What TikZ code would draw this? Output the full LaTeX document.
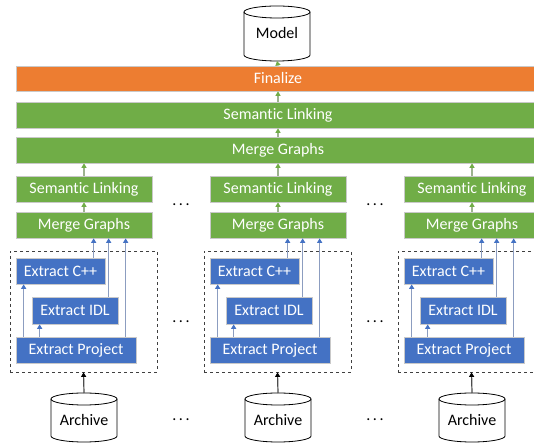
\documentclass[tikz,border=0pt]{standalone}
\usepackage{fontspec}
\setmainfont{Carlito}[Ligatures=NoCommon]
\usetikzlibrary{arrows.meta,calc}
\definecolor{offgreen}{HTML}{70AD47}
\definecolor{offorange}{HTML}{ED7D31}
\definecolor{offblue}{HTML}{4472C4}
\definecolor{gstem}{HTML}{9DB38F}
\definecolor{bstem}{HTML}{8C9DC0}
\definecolor{boxline}{HTML}{C9C9C9}
\newcommand\drawcyl[5]{% cx, ytop, ybot, rx, ry
  \path[fill=white] (#1-#4,#2-#5) -- (#1-#4,#3+#5) arc[start angle=180,end angle=360,x radius=#4,y radius=#5] -- (#1+#4,#2-#5) arc[start angle=0,end angle=180,x radius=#4,y radius=#5] -- cycle;
  \draw[cylline] (#1-#4,#2-#5) -- (#1-#4,#3+#5) arc[start angle=180,end angle=360,x radius=#4,y radius=#5] -- (#1+#4,#2-#5);
  \draw[cylline] (#1,#2-#5) ellipse[x radius=#4,y radius=#5];
}
\begin{document}
\begin{tikzpicture}[x=1pt,y=1pt,
 box/.style={rectangle, draw=boxline, line width=0.7pt, inner sep=0pt, minimum height=26pt, text=white, font=\fontsize{16}{19}\selectfont},
 gbox/.style={box, fill=offgreen},
 obox/.style={box, fill=offorange},
 bbox/.style={box, fill=offblue},
 garrow/.style={draw=gstem, line width=1.2pt, -{Triangle[length=4.5pt,width=5pt,color=offgreen]}},
 barrow/.style={draw=bstem, line width=1.2pt, -{Triangle[length=4.5pt,width=5pt,color=offblue]}},
 karrow/.style={draw=black!70, line width=1.2pt, -{Triangle[length=4.5pt,width=5pt,color=black]}},
 group/.style={rectangle, draw=black!75, dashed, line width=0.8pt, inner sep=0pt, minimum width=147pt, minimum height=121pt},
 dotsnode/.style={font=\fontsize{16}{19}\selectfont, inner sep=0pt, anchor=base},
 cylline/.style={draw=black, line width=0.8pt},
 cyltext/.style={font=\fontsize{16}{19}\selectfont, inner sep=0pt}
]
\useasboundingbox (0,0) rectangle (534,443);
\clip (0,0) rectangle (534,443);

% top chain
\drawcyl{277}{437}{382}{33}{6}
\node[cyltext] (model) at (277,409.5) {Model};
\coordinate (modelbot) at (277,382);
\node[obox, minimum width=524pt, minimum height=25pt] (fin) at (278,364.5) {Finalize};
\node[gbox, minimum width=524pt] (slt) at (278,328) {Semantic Linking};
\node[gbox, minimum width=524pt] (mgt) at (278,293) {Merge Graphs};
\draw[garrow] (fin.north) -- (modelbot);
\draw[garrow] (slt.north) -- (fin.south);
\draw[garrow] (mgt.north) -- (slt.south);

% columns
\foreach \i/\L in {1/16, 2/210, 3/404} {
  \node[gbox, minimum width=136pt] (sl\i) at (\L+68,254) {Semantic Linking};
  \node[gbox, minimum width=136pt] (mg\i) at (\L+68,218) {Merge Graphs};
  \node[group] (grp\i) at (\L+67.5,131.5) {};
  \node[bbox, minimum width=89pt] (cpp\i) at (\L+44.5,172) {Extract C++};
  \node[bbox, minimum width=86pt, minimum height=27pt] (idl\i) at (\L+59,132.5) {Extract IDL};
  \node[bbox, minimum width=120pt] (prj\i) at (\L+60,93) {Extract Project};
  \drawcyl{\L+68}{50}{1}{33}{6}
  \node[cyltext] (arc\i) at (\L+68,23) {Archive};
  \coordinate (arctop\i) at (\L+68,50);
  \draw[karrow] (arctop\i) -- (grp\i.south);
  \draw[garrow] (sl\i.north) -- (sl\i.north |- mgt.south);
  \draw[garrow] (mg\i.north) -- (sl\i.south);
  \path ($(cpp\i.north west)+(78,0)$) coordinate (ca\i)
        ($(idl\i.north west)+(77,0)$) coordinate (ia\i)
        ($(prj\i.north west)+(110,0)$) coordinate (pa\i)
        ($(prj\i.north west)+(8,0)$) coordinate (pc\i)
        ($(prj\i.north west)+(24,0)$) coordinate (pi\i);
  \draw[barrow] (ca\i) -- (ca\i |- mg\i.south);
  \draw[barrow] (ia\i) -- (ia\i |- mg\i.south);
  \draw[barrow] (pa\i) -- (pa\i |- mg\i.south);
  \draw[barrow] (pc\i) -- (pc\i |- cpp\i.south);
  \draw[barrow] (pi\i) -- (pi\i |- idl\i.south);
}

% dots
\foreach \j/\x in {a/181, b/375} {
  \node[dotsnode] (dt1\j) at (\x,237) {.\hspace{2.5pt}.\hspace{2.5pt}.};
  \node[dotsnode] (dt2\j) at (\x,120) {.\hspace{2.5pt}.\hspace{2.5pt}.};
  \node[dotsnode] (dt3\j) at (\x,22) {.\hspace{2.5pt}.\hspace{2.5pt}.};
}
\end{tikzpicture}
\end{document}
